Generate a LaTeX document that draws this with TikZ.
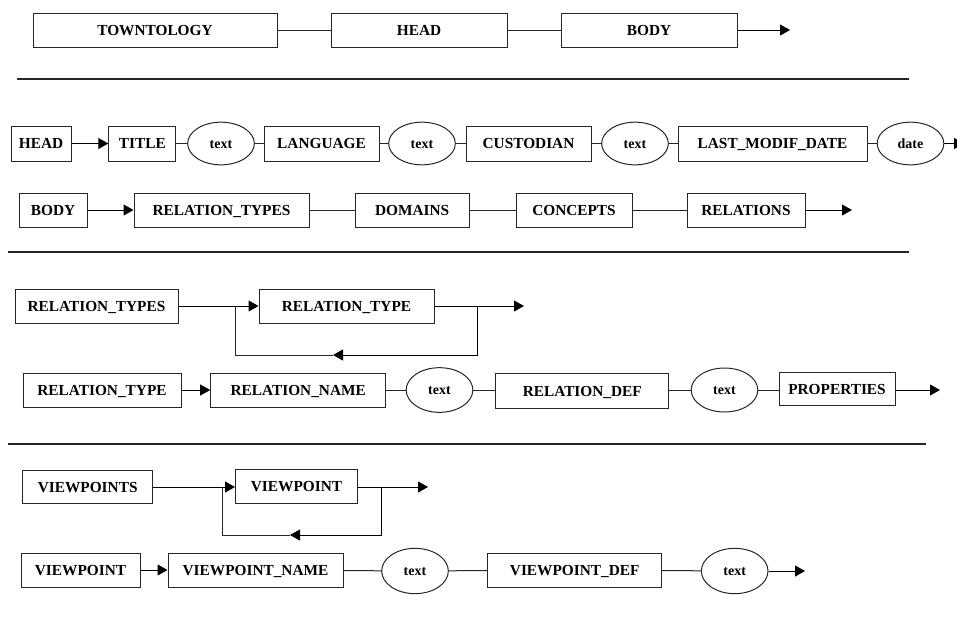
\documentclass[tikz,border=0pt]{standalone}
\usepackage{fontspec}
\setmainfont{Liberation Serif}
\usepackage{tikz}
\usetikzlibrary{arrows.meta,shapes.geometric}

\begin{document}
\begin{tikzpicture}[x=0.75pt,y=0.75pt,yscale=-1,xscale=1,
  box/.style={draw=black!85, line width=0.75pt, minimum height=25.5pt, inner sep=0.75pt, text height=7.6pt, text depth=0pt, font=\fontsize{11.5}{13}\selectfont\bfseries},
  val/.style={draw=black!85, ellipse, line width=0.75pt, minimum width=50pt, minimum height=32pt, inner sep=0.75pt, text height=7pt, text depth=0pt, font=\fontsize{10.5}{12}\selectfont\bfseries},
  link/.style={line width=0.75pt, draw=black!85},
  arr/.style={line width=0.75pt, -{Triangle[length=7.5pt,width=8.25pt]}},
  sep/.style={line width=1.5pt, draw=black!85}]
\useasboundingbox (0,0) rectangle (957,619);

%Row: TOWNTOLOGY
\node [box, minimum width=183pt] (towntology) at (155,30) {TOWNTOLOGY};
\node [box, minimum width=132pt] (headA) at (419,30) {HEAD};
\node [box, minimum width=132pt] (bodyA) at (649,30) {BODY};
\coordinate (endA) at (790,30);
\draw [link] (towntology) -- (headA);
\draw [link] (headA) -- (bodyA);
\draw [arr] (bodyA) -- (endA);

%Separator
\draw [sep] (17,79) -- (909,79);

%Row: HEAD
\node [box, minimum width=45pt, minimum height=26.25pt] (headB) at (41,143.5) {HEAD};
\node [box, minimum width=50.25pt, minimum height=26.25pt] (title) at (142.3,143.5) {TITLE};
\node [val] (textA) at (221,143.5) {text};
\node [box, minimum width=86.25pt, minimum height=26.25pt] (language) at (321.5,143.5) {LANGUAGE};
\node [val] (textB) at (422,143.5) {text};
\node [box, minimum width=93.75pt, minimum height=26.25pt] (custodian) at (528.5,143.5) {CUSTODIAN};
\node [val] (textC) at (635,143.5) {text};
\node [box, minimum width=141.75pt, minimum height=26.25pt] (lastmodif) at (772.5,143.5) {LAST\_MODIF\_DATE};
\node [val] (date) at (910.5,143.5) {date};
\coordinate (endB) at (964,143.5);
\draw [arr] (headB) -- (title);
\draw [link] (title) -- (textA);
\draw [link] (textA) -- (language);
\draw [link] (language) -- (textB);
\draw [link] (textB) -- (custodian);
\draw [link] (custodian) -- (textC);
\draw [link] (textC) -- (lastmodif);
\draw [link] (lastmodif) -- (date);
\draw [arr] (date) -- (endB);

%Row: BODY
\node [box, minimum width=51pt] (bodyB) at (53,210) {BODY};
\node [box, minimum width=131.25pt] (reltypesA) at (221.5,210) {RELATION\_TYPES};
\node [box, minimum width=85.5pt] (domains) at (412.2,210) {DOMAINS};
\node [box, minimum width=87pt] (concepts) at (574,210) {CONCEPTS};
\node [box, minimum width=88.5pt] (relations) at (746,210) {RELATIONS};
\coordinate (endC) at (852,210);
\draw [arr] (bodyB) -- (reltypesA);
\draw [link] (reltypesA) -- (domains);
\draw [link] (domains) -- (concepts);
\draw [link] (concepts) -- (relations);
\draw [arr] (relations) -- (endC);

%Separator
\draw [sep] (8,252) -- (909,252);

%Row: RELATION_TYPES loop
\node [box, minimum width=122.25pt] (reltypesB) at (96.5,306) {RELATION\_TYPES};
\node [box, minimum width=131.25pt] (reltypeA) at (346.5,306) {RELATION\_TYPE};
\coordinate (loopDa) at (235,306);
\coordinate (loopDb) at (477,306);
\coordinate (loopDm) at (333,355);
\coordinate (endD) at (524,306);
\draw [arr] (reltypesB) -- (reltypeA);
\draw [arr] (reltypeA) -- (endD);
\draw [arr] (loopDb) |- (loopDm);
\draw [link] (loopDm) -| (loopDa);

%Row: RELATION_TYPE
\node [box, minimum width=118.5pt] (reltypeB) at (102,390) {RELATION\_TYPE};
\node [box, minimum width=131.25pt] (relname) at (298.2,390) {RELATION\_NAME};
\node [val, minimum height=33.5pt] (textD) at (439.5,390) {text};
\node [box, minimum width=129.75pt, minimum height=26.5pt] (reldef) at (582.3,391) {RELATION\_DEF};
\node [val, minimum height=33pt] (textE) at (724.5,390) {text};
\node [box, minimum width=87pt, minimum height=24.75pt] (properties) at (837,389) {PROPERTIES};
\coordinate (endE) at (940,390);
\draw [arr] (reltypeB) -- (relname);
\draw [link] (relname) -- (textD);
\draw [link] (textD) -- (reldef.west |- textD);
\draw [link] (reldef.east |- textE) -- (textE);
\draw [link] (textE) -- (properties.west |- textE);
\draw [arr] (properties.east |- endE) -- (endE);

%Separator
\draw [sep] (8,444) -- (926,444);

%Row: VIEWPOINTS loop
\node [box, minimum width=97.5pt, minimum height=24.75pt] (viewpoints) at (87.7,487) {VIEWPOINTS};
\node [box, minimum width=91.5pt] (viewpointA) at (296.5,486) {VIEWPOINT};
\coordinate (loopFa) at (222.7,487);
\coordinate (loopFb) at (381.7,487);
\coordinate (loopFm) at (290,535);
\coordinate (endF) at (428,487);
\draw [arr] (viewpoints) -- (viewpointA.west |- viewpoints);
\draw [arr] (viewpointA.east |- endF) -- (endF);
\draw [arr] (loopFb) |- (loopFm);
\draw [link] (loopFm) -| (loopFa);

%Row: VIEWPOINT
\node [box, minimum width=89.25pt] (viewpointB) at (80.5,570) {VIEWPOINT};
\node [box, minimum width=131.25pt] (vpname) at (255.5,570) {VIEWPOINT\_NAME};
\node [val, minimum height=34pt] (textF) at (415,571) {text};
\node [box, minimum width=130.5pt] (vpdef) at (574.7,570) {VIEWPOINT\_DEF};
\node [val, minimum height=34pt] (textG) at (734.7,571) {text};
\coordinate (endG) at (805,571);
\draw [arr] (viewpointB) -- (vpname);
\draw [link] (vpname) -- (textF);
\draw [link] (textF) -- (vpdef);
\draw [link] (vpdef) -- (textG);
\draw [arr] (textG) -- (endG);

\end{tikzpicture}
\end{document}
